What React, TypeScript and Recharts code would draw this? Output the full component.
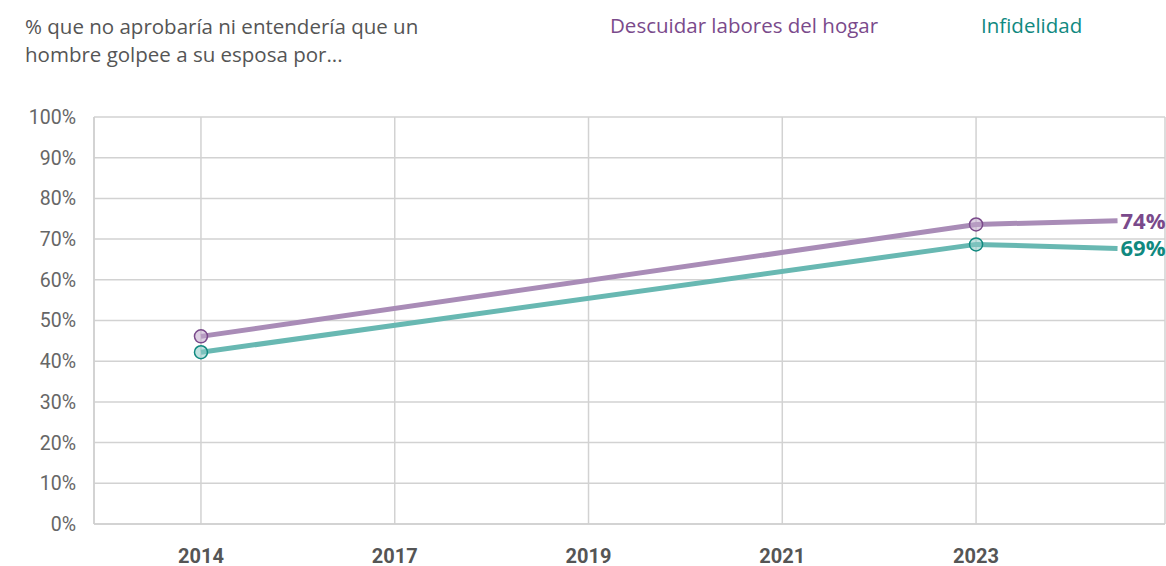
import React from 'react';
import { LineChart, Line, XAxis, YAxis, CartesianGrid } from 'recharts';

// x positions (index units) — last point is the label anchor after 2023
const yearLabels = ['2014', '2017', '2019', '2021', '2023'];
const xPos = [0, 1, 2, 3, 4, 4.73];
const descuidar = [46.1, null, null, null, 73.6, 74.5];
const infidelidad = [42.2, null, null, null, 68.7, 67.7];
const endLabels = ['74%', '69%'];
const yTicks = [0, 10, 20, 30, 40, 50, 60, 70, 80, 90, 100];

const data = xPos.map((x, i) => ({ x, descuidar: descuidar[i], infidelidad: infidelidad[i] }));

const PURPLE_LINE = '#a98cb7';
const PURPLE_DARK = '#7a4a8b';
const TEAL_LINE = '#68b8b2';
const TEAL_DARK = '#10897f';

const makeDot = (fill: string, stroke: string) => (props: any) => {
  const { cx, cy, index } = props;
  if (index !== 0 && index !== 4) return <g key={`d-${index}`} />;
  return (
    <circle key={`d-${index}`} cx={cx} cy={cy} r={6.5} fill={fill} fillOpacity={0.55} stroke={stroke} strokeWidth={1.5} />
  );
};

const makeLabel = (text: string, color: string) => (props: any) => {
  const { x, y, index } = props;
  if (index !== data.length - 1) return <g key={`l-${index}`} />;
  return (
    <text key={`l-${index}`} x={x + 3} y={y} dy="0.36em" fill={color}
      style={{ fontFamily: 'Open Sans', fontWeight: 700, fontSize: 22 }}>
      {text}
    </text>
  );
};

const headText = { fontFamily: 'Open Sans', fontSize: 20.5, lineHeight: '28px' } as const;

export default function App() {
  return (
    <div style={{ position: 'absolute', left: 0, top: 0, width: 1166, height: 566, background: '#fff' }}>
      {/* Title */}
      <div style={{ ...headText, position: 'absolute', left: 25, top: 12, color: '#555' }}>
        % que no aprobaría ni entendería que un<br />hombre golpee a su esposa por...
      </div>

      {/* Legend */}
      <div style={{ ...headText, position: 'absolute', left: 610, top: 11, color: PURPLE_DARK }}>
        Descuidar labores del hogar
      </div>
      <div style={{ ...headText, position: 'absolute', left: 981, top: 11, color: TEAL_DARK }}>
        Infidelidad
      </div>

      <LineChart width={1166} height={566} data={data} margin={{ top: 117, right: 1, bottom: 0, left: 0 }}>
        <CartesianGrid stroke="#d2d2d2" strokeWidth={1.5} />
        <XAxis
          dataKey="x"
          type="number"
          domain={[-0.552, 4.975]}
          ticks={[0, 1, 2, 3, 4]}
          tickFormatter={(v: number) => yearLabels[v]}
          height={42}
          axisLine={{ stroke: '#cfcfcf', strokeWidth: 1.5 }}
          tickLine={false}
          tickSize={10}
          tickMargin={15}
          tick={{ fill: '#555', fontFamily: 'Roboto', fontWeight: 700, fontSize: 20 }}
        />
        <YAxis
          domain={[0, 100]}
          ticks={yTicks}
          tickFormatter={(v: number) => `${v}%`}
          width={94}
          axisLine={{ stroke: '#cfcfcf', strokeWidth: 1.5 }}
          tickLine={false}
          tickSize={8}
          tickMargin={10}
          tick={{ fill: '#666', fontFamily: 'Roboto', fontSize: 19.5 }}
        />
        <Line
          dataKey="infidelidad"
          stroke={TEAL_LINE}
          strokeWidth={5}
          connectNulls
          isAnimationActive={false}
          dot={makeDot('#8ccbc6', TEAL_DARK)}
          activeDot={false}
          label={makeLabel(endLabels[1], TEAL_DARK)}
        />
        <Line
          dataKey="descuidar"
          stroke={PURPLE_LINE}
          strokeWidth={5}
          connectNulls
          isAnimationActive={false}
          dot={makeDot('#c2a9cc', PURPLE_DARK)}
          activeDot={false}
          label={makeLabel(endLabels[0], PURPLE_DARK)}
        />
      </LineChart>
    </div>
  );
}
